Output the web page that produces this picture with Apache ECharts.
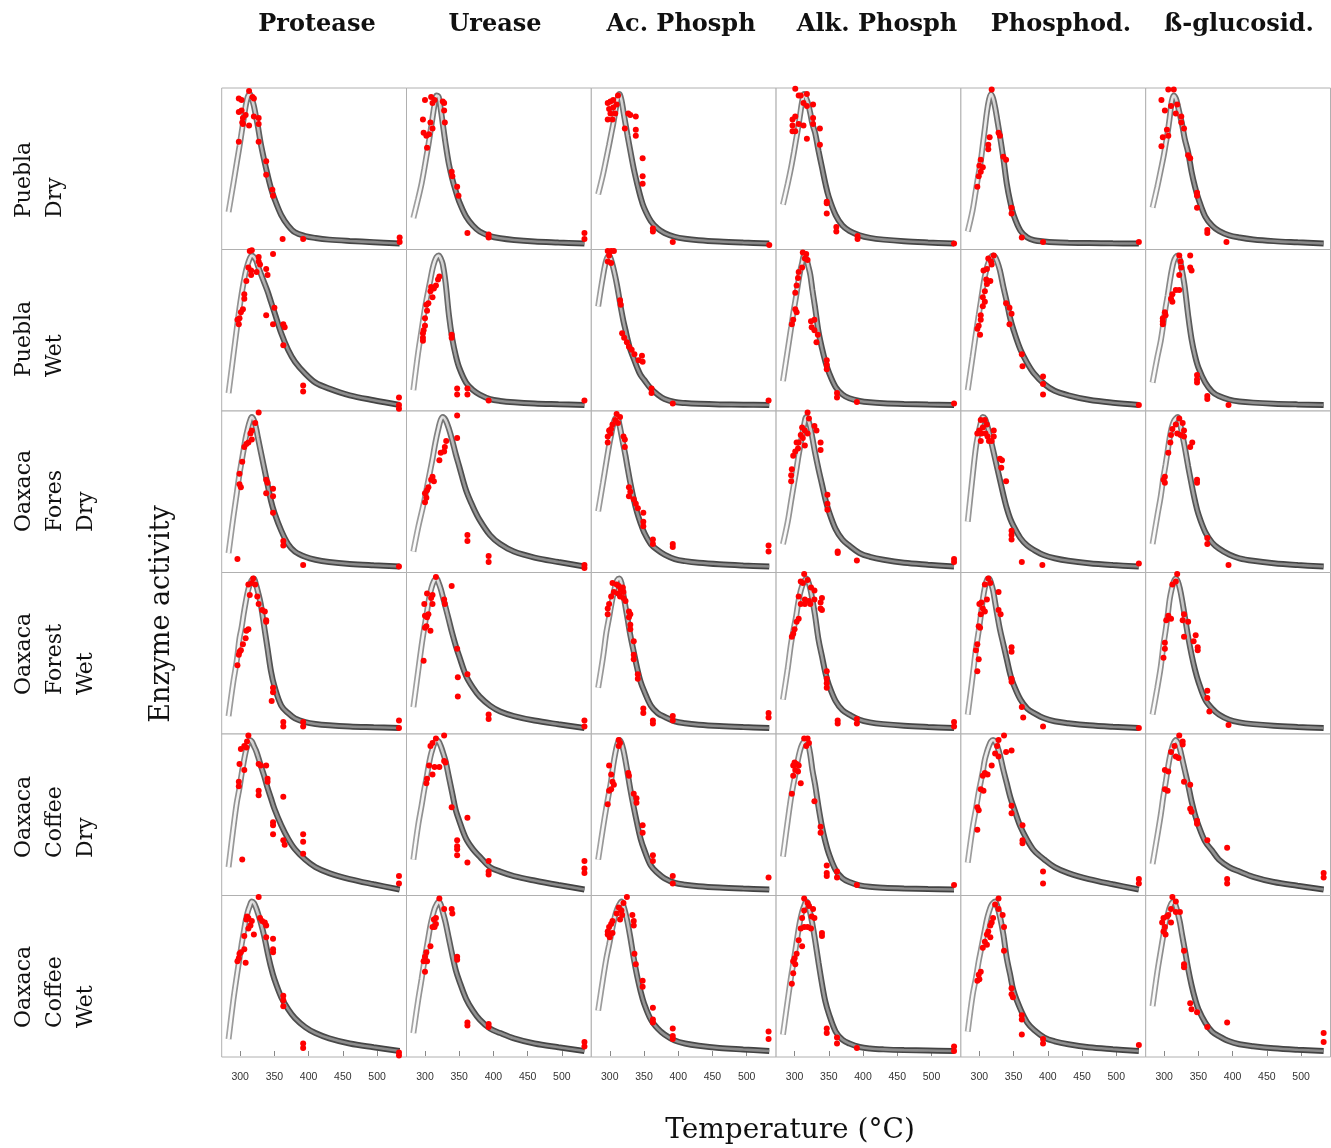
<!DOCTYPE html>
<html><head><meta charset="utf-8">
<script src="https://cdn.jsdelivr.net/npm/echarts@6/dist/echarts.min.js"></script>
<style>html,body{margin:0;padding:0;background:#fff}#chart{width:1331px;height:1148px}</style>
</head><body><div id="chart"></div>
<script>
// ---------- categories / ticks ----------
const ENZYMES = ['Protease', 'Urease', 'Ac. Phosph', 'Alk. Phosph', 'Phosphod.', 'ß-glucosid.'];
const SITES = ['Puebla\nDry', 'Puebla\nWet', 'Oaxaca\nFores\nDry', 'Oaxaca\nForest\nWet', 'Oaxaca\nCoffee\nDry', 'Oaxaca\nCoffee\nWet'];
const X_TICKS = [300, 350, 400, 450, 500];
const X_TITLE = 'Temperature (°C)';
const Y_TITLE = 'Enzyme activity';

// temperatures at which the fitted curves were read
const TEMP_GRID = [283,290,295,299,302,305,308,311,314,317,320,323,326,330,335,340,345,350,360,370,380,395,410,430,460,495,533];

// ---------- fitted curves (relative activity), one array per enzyme ----------
const fitPueblaDry = [
  [.21,.40,.54,.65,.74,.83,.92,.98,1.0,.97,.92,.85,.78,.67,.56,.46,.37,.30,.19,.12,.075,.05,.037,.026,.017,.009,0],
  [.17,.30,.40,.50,.58,.66,.75,.84,.93,.99,.98,.90,.80,.67,.53,.43,.35,.28,.18,.12,.08,.05,.035,.024,.014,.007,0],
  [.33,.46,.57,.66,.73,.80,.88,.96,1.0,.96,.88,.80,.72,.62,.50,.40,.31,.24,.15,.10,.07,.045,.032,.022,.013,.006,0],
  [.26,.40,.51,.61,.69,.77,.86,.95,1.0,.97,.93,.87,.80,.74,.62,.51,.40,.31,.19,.12,.085,.055,.038,.026,.015,.007,0],
  [.08,.22,.36,.47,.55,.66,.77,.88,.96,1.0,.97,.91,.83,.72,.57,.40,.28,.19,.085,.04,.022,.013,.008,.005,.003,.001,0],
  [.24,.38,.49,.58,.66,.74,.84,.95,.99,.97,.92,.86,.80,.70,.61,.48,.38,.30,.18,.12,.085,.055,.04,.027,.016,.008,0]
];
const fitPueblaWet = [
  [.08,.33,.51,.65,.74,.82,.89,.94,.98,1.0,.99,.97,.93,.88,.82,.76,.69,.62,.48,.37,.29,.21,.15,.11,.065,.032,0],
  [.10,.35,.50,.62,.70,.77,.84,.91,.96,.99,1.0,.98,.94,.82,.60,.44,.33,.25,.15,.10,.07,.04,.027,.018,.01,.005,0],
  [.66,.86,.97,1.0,.97,.92,.86,.79,.71,.63,.56,.50,.44,.37,.31,.25,.20,.17,.11,.07,.04,.02,.013,.008,.004,.002,0],
  [.16,.37,.52,.64,.72,.81,.89,.95,1.0,.98,.93,.87,.77,.65,.49,.38,.29,.22,.12,.07,.045,.027,.018,.012,.007,.003,0],
  [.10,.32,.48,.60,.69,.78,.86,.92,.96,.99,1.0,.99,.96,.90,.79,.69,.58,.50,.37,.28,.21,.14,.095,.065,.035,.015,0],
  [.15,.32,.43,.55,.65,.73,.82,.90,.96,.99,1.0,.97,.90,.79,.60,.44,.33,.25,.15,.09,.06,.036,.024,.016,.009,.004,0]
];
const fitForestDry = [
  [.09,.33,.49,.62,.70,.78,.86,.92,.97,1.0,.98,.93,.86,.77,.66,.55,.44,.36,.24,.15,.10,.065,.045,.03,.017,.008,0],
  [.10,.26,.36,.44,.51,.58,.65,.72,.80,.87,.93,.98,1.0,.98,.92,.84,.75,.67,.51,.40,.31,.21,.15,.10,.06,.03,0],
  [.37,.56,.70,.81,.88,.95,.99,1.0,.95,.88,.81,.74,.66,.56,.45,.36,.29,.23,.15,.11,.08,.05,.036,.025,.015,.007,0],
  [.15,.30,.44,.55,.63,.72,.80,.88,.95,1.0,.98,.93,.86,.76,.65,.55,.45,.37,.25,.18,.14,.09,.065,.045,.025,.012,0],
  [.30,.60,.80,.90,.96,1.0,.99,.95,.90,.84,.78,.72,.66,.58,.48,.39,.32,.27,.19,.14,.11,.075,.055,.038,.022,.01,0],
  [.15,.34,.47,.60,.68,.77,.86,.93,.97,.99,1.0,.96,.89,.80,.67,.55,.44,.35,.23,.16,.12,.08,.055,.038,.022,.01,0]
];
const fitForestWet = [
  [.08,.31,.45,.60,.67,.76,.84,.91,.96,.99,1.0,.96,.91,.83,.68,.53,.38,.28,.15,.10,.065,.04,.027,.018,.01,.005,0],
  [.14,.38,.55,.67,.75,.84,.91,.96,.99,1.0,.97,.93,.88,.81,.72,.63,.55,.48,.35,.27,.21,.15,.11,.08,.05,.025,0],
  [.27,.47,.64,.74,.82,.89,.95,.99,1.0,.97,.89,.81,.73,.62,.51,.40,.31,.25,.15,.10,.075,.045,.032,.022,.013,.006,0],
  [.19,.40,.57,.67,.74,.83,.90,.95,.98,1.0,.98,.93,.86,.75,.59,.48,.37,.29,.18,.12,.09,.055,.038,.026,.015,.007,0],
  [.09,.34,.53,.65,.75,.86,.94,.99,1.0,.97,.92,.84,.76,.66,.56,.46,.36,.29,.19,.13,.10,.065,.045,.032,.018,.008,0],
  [.09,.27,.41,.56,.65,.75,.86,.93,.98,1.0,.98,.93,.86,.75,.61,.49,.39,.31,.19,.13,.09,.055,.038,.026,.015,.007,0]
];
const fitCoffeeDry = [
  [.15,.41,.58,.68,.77,.85,.92,.97,1.0,.99,.96,.93,.89,.83,.76,.68,.61,.54,.43,.34,.27,.20,.15,.11,.07,.035,0],
  [.20,.43,.56,.67,.74,.82,.89,.94,.98,1.0,.99,.96,.92,.86,.75,.64,.53,.46,.34,.27,.22,.15,.12,.09,.06,.03,0],
  [.20,.41,.55,.65,.73,.83,.91,.97,1.0,.98,.93,.86,.78,.67,.55,.44,.34,.27,.16,.11,.075,.045,.032,.022,.013,.006,0],
  [.22,.46,.62,.72,.79,.87,.93,.97,.99,1.0,.97,.90,.80,.70,.55,.42,.32,.24,.13,.075,.05,.028,.018,.012,.007,.003,0],
  [.18,.41,.54,.65,.72,.79,.87,.92,.96,.99,1.0,.99,.96,.90,.80,.71,.62,.55,.42,.33,.26,.20,.15,.11,.07,.035,0],
  [.17,.36,.50,.63,.71,.80,.88,.94,.98,1.0,.98,.94,.88,.80,.70,.59,.50,.43,.32,.26,.20,.15,.12,.085,.05,.025,0]
];
const fitCoffeeWet = [
  [.08,.34,.50,.62,.71,.79,.87,.93,.97,1.0,.99,.96,.92,.86,.77,.66,.56,.48,.36,.28,.22,.16,.12,.085,.05,.025,0],
  [.12,.34,.48,.60,.68,.76,.84,.90,.95,.98,1.0,.98,.93,.86,.75,.64,.54,.47,.35,.27,.21,.15,.12,.085,.05,.025,0],
  [.27,.48,.62,.71,.78,.85,.91,.95,.98,1.0,.97,.92,.86,.76,.62,.50,.40,.32,.21,.15,.11,.07,.05,.035,.02,.01,0],
  [.11,.34,.50,.61,.70,.79,.87,.93,.97,1.0,.98,.92,.85,.74,.59,.45,.33,.25,.13,.075,.05,.027,.017,.011,.006,.003,0],
  [.13,.37,.49,.60,.67,.74,.81,.88,.93,.97,.99,1.0,.97,.90,.78,.62,.51,.40,.28,.19,.14,.09,.065,.045,.025,.012,0],
  [.30,.53,.67,.78,.86,.91,.96,.99,1.0,.97,.92,.86,.78,.68,.55,.44,.35,.28,.19,.13,.10,.065,.045,.032,.018,.008,0]
];

// ---------- observations [temperature, relative activity], one array per enzyme ----------
const obsPueblaDry = [
  [[298,.97],[302,.96],[313,1.02],[318,.98],[320,.97],[298,.88],[302,.89],[304,.84],[308,.86],[303,.81],[304,.80],[313,.79],[298,.68],[320,.85],[327,.84],[327,.80],[327,.68],[338,.55],[338,.46],[347,.36],[348,.32],[362,.03],[392,.03],[533,.04],[533,.01]],
  [[300,.96],[309,.98],[314,.96],[311,.94],[326,.95],[328,.94],[297,.83],[308,.81],[311,.77],[298,.74],[306,.73],[302,.72],[303,.64],[328,.89],[329,.81],[339,.48],[340,.45],[347,.38],[349,.32],[362,.07],[393,.06],[393,.04],[533,.07],[533,.03]],
  [[297,.94],[301,.95],[305,.96],[299,.90],[305,.91],[310,.93],[301,.87],[308,.87],[297,.83],[304,.83],[312,.99],[327,.87],[330,.86],[338,.85],[322,.77],[338,.76],[338,.72],[348,.57],[348,.45],[348,.40],[363,.10],[363,.08],[392,.01],[533,-.01]],
  [[301,1.035],[306,.99],[309,.99],[318,1.0],[313,.94],[318,.92],[297,.83],[297,.79],[297,.75],[301,.75],[301,.85],[306,.80],[313,.79],[318,.70],[327,.93],[327,.84],[327,.80],[337,.77],[337,.66],[347,.28],[347,.27],[347,.20],[361,.11],[361,.08],[392,.05],[392,.03],[533,0]],
  [[315,.71],[313,.66],[313,.63],[302,.56],[300,.52],[305,.51],[302,.48],[299,.45],[297,.38],[318,1.03],[328,.74],[330,.72],[335,.58],[339,.56],[347,.24],[347,.20],[362,.04],[393,.01],[533,.01]],
  [[306,1.03],[314,1.03],[296,.96],[301,.89],[310,.92],[319,.93],[304,.76],[306,.72],[298,.71],[296,.65],[317,.87],[325,.85],[325,.81],[329,.77],[335,.59],[338,.57],[348,.34],[348,.32],[348,.24],[363,.09],[363,.07],[391,.01]]
];
const obsPueblaWet = [
  [[314,1.03],[317,1.035],[348,1.01],[312,.92],[316,.90],[327,.99],[327,.96],[329,.94],[324,.89],[316,.87],[338,.91],[340,.87],[309,.83],[306,.74],[306,.71],[304,.64],[301,.62],[299,.58],[296,.57],[298,.54],[338,.60],[350,.65],[348,.54],[363,.54],[365,.52],[363,.40],[392,.13],[392,.09],[532,.05],[532,0],[532,-.025]],
  [[321,.86],[319,.84],[316,.80],[313,.78],[309,.79],[308,.76],[311,.72],[305,.68],[302,.67],[303,.63],[300,.58],[300,.53],[298,.50],[297,.48],[297,.45],[297,.43],[339,.47],[339,.45],[347,.11],[347,.07],[362,.11],[362,.07],[393,.03],[533,.03]],
  [[297,1.03],[302,1.03],[306,1.03],[299,1.0],[297,.96],[302,.95],[315,.70],[316,.67],[318,.48],[321,.45],[325,.42],[328,.39],[332,.37],[336,.34],[342,.30],[347,.33],[348,.29],[361,.11],[361,.08],[392,.01],[532,.03]],
  [[312,1.02],[317,1.01],[315,.98],[319,.97],[311,.92],[306,.89],[305,.85],[303,.80],[301,.75],[301,.64],[303,.62],[298,.57],[296,.54],[324,.56],[329,.57],[325,.52],[329,.50],[334,.47],[332,.42],[347,.30],[347,.27],[347,.24],[362,.08],[362,.05],[391,.02],[533,.01]],
  [[313,.98],[317,.96],[321,1.0],[318,.94],[311,.91],[306,.90],[310,.84],[311,.81],[316,.83],[308,.76],[305,.72],[308,.69],[305,.66],[302,.60],[302,.57],[299,.53],[297,.51],[301,.47],[339,.68],[344,.65],[347,.61],[344,.54],[362,.34],[363,.26],[393,.19],[393,.14],[393,.07],[533,0]],
  [[322,1.0],[338,1.0],[324,.96],[325,.92],[338,.92],[340,.90],[322,.87],[317,.77],[322,.77],[312,.74],[310,.71],[312,.69],[301,.62],[302,.60],[298,.58],[298,.56],[298,.54],[348,.20],[348,.17],[348,.15],[363,.06],[363,.04],[394,0]]
];
const obsForestDry = [
  [[327,1.03],[322,.96],[317,.91],[315,.89],[317,.85],[312,.83],[309,.82],[306,.80],[303,.70],[299,.62],[299,.55],[301,.53],[296,.05],[338,.58],[340,.56],[338,.49],[348,.52],[348,.47],[348,.36],[363,.17],[363,.14],[392,.01],[532,0]],
  [[347,1.01],[347,.86],[331,.84],[329,.80],[328,.77],[323,.76],[321,.71],[311,.60],[309,.58],[313,.57],[305,.53],[303,.51],[300,.49],[302,.46],[300,.43],[362,.21],[362,.17],[393,.07],[393,.03],[533,.01],[533,-.01]],
  [[310,1.02],[315,1.0],[308,.98],[312,.96],[304,.95],[302,.92],[299,.91],[301,.89],[297,.87],[297,.83],[320,.87],[322,.85],[322,.80],[328,.53],[330,.50],[328,.47],[335,.45],[338,.42],[341,.39],[349,.36],[349,.30],[349,.27],[363,.18],[363,.15],[392,.15],[392,.13],[532,.14],[532,.10]],
  [[319,1.03],[321,.99],[311,.93],[315,.91],[329,.94],[332,.91],[319,.89],[309,.88],[312,.86],[306,.83],[315,.81],[303,.83],[305,.79],[301,.77],[298,.74],[338,.83],[338,.78],[296,.65],[295,.61],[295,.57],[348,.48],[348,.42],[348,.38],[363,.10],[363,.09],[391,.04],[533,.05],[533,.03]],
  [[302,.98],[308,.98],[311,.95],[305,.93],[300,.91],[297,.89],[303,.89],[309,.89],[312,.87],[321,.91],[321,.87],[318,.84],[302,.84],[314,.84],[330,.72],[333,.71],[332,.66],[339,.57],[347,.24],[347,.21],[347,.18],[362,.03],[392,.01],[533,.02]],
  [[322,.99],[327,.96],[317,.95],[312,.92],[310,.88],[319,.89],[324,.88],[329,.91],[329,.87],[309,.83],[306,.76],[341,.83],[338,.80],[301,.60],[299,.58],[301,.56],[348,.58],[348,.56],[363,.19],[363,.15],[394,.01]]
];
const obsForestWet = [
  [[319,1.0],[317,.97],[322,.96],[312,.96],[314,.89],[325,.88],[327,.83],[332,.79],[336,.78],[338,.72],[338,.71],[312,.66],[309,.65],[308,.60],[304,.56],[301,.52],[299,.51],[298,.49],[296,.42],[348,.27],[348,.24],[346,.18],[363,.04],[363,.01],[392,.04],[392,.01],[532,.05],[532,0]],
  [[316,1.01],[339,.95],[303,.90],[309,.87],[311,.89],[299,.83],[311,.83],[328,.86],[329,.83],[300,.75],[305,.76],[303,.74],[302,.68],[300,.67],[308,.65],[298,.45],[347,.53],[348,.34],[362,.36],[348,.21],[393,.09],[393,.06],[533,.05],[533,.01]],
  [[304,.97],[310,.96],[313,.95],[316,.93],[319,.94],[320,.91],[306,.91],[312,.90],[302,.88],[315,.88],[320,.87],[323,.85],[299,.83],[297,.80],[297,.76],[328,.78],[330,.76],[328,.74],[330,.69],[330,.66],[335,.58],[335,.49],[335,.46],[341,.36],[341,.33],[349,.13],[349,.10],[363,.05],[363,.03],[392,.08],[392,.05],[532,.10],[532,.07]],
  [[314,1.03],[309,.98],[312,.97],[319,.99],[324,.94],[329,.92],[306,.88],[315,.86],[321,.85],[329,.86],[338,.84],[340,.87],[309,.83],[315,.83],[323,.83],[338,.80],[340,.79],[303,.71],[306,.73],[300,.66],[298,.63],[296,.61],[347,.38],[347,.33],[347,.30],[347,.27],[363,.05],[363,.03],[391,.06],[391,.03],[533,.04],[533,.01]],
  [[313,1.0],[316,.97],[308,.96],[328,.91],[311,.86],[303,.84],[300,.83],[305,.80],[308,.78],[302,.76],[299,.68],[301,.67],[297,.56],[295,.52],[299,.46],[297,.38],[328,.79],[331,.76],[347,.54],[347,.51],[347,.33],[347,.31],[362,.14],[364,.07],[393,.01],[533,0]],
  [[319,1.03],[317,.98],[312,.96],[310,.73],[303,.72],[306,.75],[329,.76],[327,.72],[335,.71],[329,.61],[346,.62],[343,.58],[349,.54],[349,.52],[301,.57],[301,.53],[299,.47],[363,.25],[363,.20],[366,.11],[394,.02]]
];
const obsCoffeeDry = [
  [[312,1.03],[310,.99],[306,.96],[301,.94],[309,.95],[299,.84],[298,.72],[298,.69],[306,.80],[327,.84],[330,.83],[338,.83],[340,.74],[340,.72],[327,.66],[327,.63],[363,.62],[348,.45],[348,.43],[348,.37],[363,.33],[365,.30],[392,.37],[392,.32],[392,.24],[303,.20],[532,.09],[532,.04]],
  [[328,1.03],[316,1.01],[311,.98],[308,.96],[306,.83],[314,.82],[321,.82],[328,.86],[330,.85],[303,.74],[302,.71],[311,.77],[339,.55],[347,.33],[347,.29],[347,.27],[347,.23],[362,.48],[362,.18],[393,.19],[393,.12],[393,.10],[533,.19],[533,.14],[533,.11]],
  [[313,1.0],[315,.98],[313,.96],[299,.83],[302,.77],[304,.72],[306,.70],[302,.67],[299,.66],[297,.57],[327,.78],[328,.76],[335,.64],[339,.61],[339,.58],[348,.43],[348,.38],[363,.23],[363,.19],[392,.09],[392,.04],[532,.08]],
  [[314,1.01],[319,1.01],[321,.98],[317,.96],[300,.85],[303,.84],[298,.83],[306,.83],[301,.80],[305,.79],[298,.76],[296,.64],[309,.71],[329,.59],[338,.42],[338,.38],[347,.16],[347,.11],[347,.09],[362,.12],[362,.08],[391,.03],[533,.03]],
  [[336,1.03],[328,1.0],[326,.96],[323,.91],[339,.92],[347,.93],[328,.89],[318,.83],[308,.78],[312,.77],[305,.76],[302,.67],[306,.66],[297,.55],[299,.53],[297,.40],[347,.56],[347,.51],[363,.43],[363,.33],[363,.31],[393,.12],[393,.04],[533,.07],[533,.04]],
  [[322,1.03],[327,.99],[327,.97],[315,.96],[310,.92],[301,.80],[306,.79],[317,.89],[321,.88],[301,.67],[305,.66],[329,.72],[338,.70],[338,.54],[340,.52],[348,.46],[348,.44],[363,.33],[392,.28],[392,.07],[392,.04],[533,.11],[533,.08]]
];
const obsCoffeeWet = [
  [[327,1.03],[310,.90],[312,.89],[309,.88],[317,.87],[315,.84],[312,.82],[306,.77],[320,.78],[329,.89],[332,.87],[336,.86],[338,.84],[338,.76],[348,.75],[348,.68],[348,.66],[306,.68],[301,.66],[299,.65],[298,.62],[296,.60],[308,.59],[363,.37],[363,.34],[363,.30],[392,.05],[392,.02],[532,-.01],[532,-.03]],
  [[321,1.02],[328,.95],[339,.95],[340,.92],[316,.89],[313,.88],[316,.85],[311,.83],[314,.83],[308,.70],[302,.66],[300,.63],[303,.60],[298,.60],[300,.53],[347,.63],[347,.61],[362,.19],[362,.17],[393,.18],[393,.16],[533,.06],[533,.03]],
  [[325,1.03],[320,.99],[313,.96],[317,.94],[318,.91],[310,.92],[315,.88],[304,.87],[302,.85],[299,.83],[297,.80],[297,.78],[304,.79],[300,.76],[333,.91],[335,.87],[335,.84],[336,.65],[338,.58],[348,.47],[348,.43],[363,.29],[363,.21],[363,.19],[392,.15],[392,.10],[392,.08],[532,.13],[532,.08]],
  [[314,1.02],[319,.99],[321,.97],[327,.95],[314,.94],[311,.89],[325,.90],[329,.89],[319,.83],[314,.83],[324,.82],[309,.82],[340,.79],[340,.77],[306,.74],[311,.70],[303,.65],[300,.62],[298,.60],[301,.58],[298,.52],[296,.45],[347,.15],[347,.12],[362,.09],[362,.05],[391,.02],[533,.03],[533,0]],
  [[328,1.02],[323,.98],[328,.95],[334,.91],[336,.83],[320,.89],[318,.86],[316,.84],[313,.80],[311,.78],[316,.76],[308,.73],[311,.71],[305,.69],[302,.53],[299,.51],[300,.48],[297,.47],[336,.67],[347,.42],[347,.38],[349,.36],[362,.24],[362,.21],[362,.11],[393,.08],[393,.05],[533,.04]],
  [[312,1.03],[317,1.0],[310,.95],[306,.91],[317,.93],[323,.93],[304,.90],[299,.89],[297,.86],[301,.83],[299,.80],[302,.78],[310,.86],[329,.67],[329,.58],[329,.56],[338,.32],[340,.28],[348,.26],[363,.16],[392,.19],[533,.12],[533,.06]]
];

const FITS = [fitPueblaDry, fitPueblaWet, fitForestDry, fitForestWet, fitCoffeeDry, fitCoffeeWet];
const OBS = [obsPueblaDry, obsPueblaWet, obsForestDry, obsForestWet, obsCoffeeDry, obsCoffeeWet];

// ---------- layout ----------
const L0 = 221.7, CW = 184.8, T0 = 88, CH = 161.5;
const SERIF = '"DejaVu Serif", "Liberation Serif", serif';

const grid = [], xAxis = [], yAxis = [], series = [];
for (let r = 0; r < 6; r++) {
  for (let c = 0; c < 6; c++) {
    const i = r * 6 + c;
    const bottom = r === 5;
    grid.push({ left: L0 + c * CW, top: T0 + r * CH, width: CW, height: CH,
      show: true, borderColor: '#b0b0b0', borderWidth: 1, backgroundColor: '#fff' });
    xAxis.push({ type: 'value', gridIndex: i, min: 273, max: 543,
      axisLine: { show: false }, splitLine: { show: false },
      axisTick: { show: bottom, customValues: X_TICKS, length: 5, lineStyle: { color: '#888' } },
      axisLabel: { show: bottom, customValues: X_TICKS, fontSize: 10.5, color: '#333', margin: 15,
        fontFamily: '"Liberation Sans", Arial, sans-serif' } });
    yAxis.push({ type: 'value', gridIndex: i, min: -0.04, max: 1.04, show: false });

    const fit = FITS[r][c];
    const line = TEMP_GRID.map((t, k) => [t, fit[k]]);
    let pk = 0;
    fit.forEach((v, k) => { if (v > fit[pk]) pk = k; });
    const span = TEMP_GRID[TEMP_GRID.length - 1] - TEMP_GRID[0];
    const p = (TEMP_GRID[pk] - TEMP_GRID[0]) / span;
    const p2 = Math.min(0.9, p + 0.12);
    const outer = { type: 'linear', x: 0, y: 0, x2: 1, y2: 0, colorStops: [
      { offset: 0, color: '#a8a8a8' }, { offset: p, color: '#7a7a7a' },
      { offset: p2, color: '#4f4f4f' }, { offset: 1, color: '#404040' }] };
    const inner = { type: 'linear', x: 0, y: 0, x2: 1, y2: 0, colorStops: [
      { offset: 0, color: '#ffffff' }, { offset: p, color: '#e6e6e6' },
      { offset: p2, color: '#959595' }, { offset: 1, color: '#888888' }] };
    series.push({ type: 'line', xAxisIndex: i, yAxisIndex: i, data: line, smooth: 0.35,
      showSymbol: false, silent: true, z: 2,
      lineStyle: { width: 6, color: outer } });
    series.push({ type: 'line', xAxisIndex: i, yAxisIndex: i, data: line, smooth: 0.35,
      showSymbol: false, silent: true, z: 3,
      lineStyle: { width: 2.6, color: inner } });
    series.push({ type: 'scatter', xAxisIndex: i, yAxisIndex: i, data: OBS[r][c],
      symbol: 'circle', symbolSize: 6, clip: true, silent: true, z: 4,
      itemStyle: { color: '#ff0000', opacity: 1 } });
  }
}

// ---------- texts ----------
const HEADER_X = [317, 495, 681, 877, 1061, 1239];
const ROW_BOTTOM = [218, 377, 532, 695, 858, 1028];
const graphic = [];
ENZYMES.forEach((name, c) => {
  graphic.push({ type: 'text', x: HEADER_X[c], y: 25, silent: true,
    style: { text: name, font: 'bold 24px ' + SERIF, fill: '#111',
      align: 'center', verticalAlign: 'middle', textAlign: 'center', textVerticalAlign: 'middle' } });
});
SITES.forEach((name, r) => {
  graphic.push({ type: 'text', x: 9, y: ROW_BOTTOM[r], rotation: Math.PI / 2, silent: true,
    style: { text: name, font: '22px ' + SERIF, fill: '#111', lineHeight: 31,
      align: 'left', verticalAlign: 'top', textAlign: 'left', textVerticalAlign: 'top' } });
});
graphic.push({ type: 'text', x: 162, y: 614, rotation: Math.PI / 2, silent: true,
  style: { text: Y_TITLE, font: '27px ' + SERIF, fill: '#111',
    align: 'center', verticalAlign: 'middle', textAlign: 'center', textVerticalAlign: 'middle' } });
graphic.push({ type: 'text', x: 790, y: 1131, silent: true,
  style: { text: X_TITLE, font: '28px ' + SERIF, fill: '#111',
    align: 'center', verticalAlign: 'middle', textAlign: 'center', textVerticalAlign: 'middle' } });

const chart = echarts.init(document.getElementById('chart'), null, { renderer: 'canvas' });
chart.setOption({ backgroundColor: '#fff', animation: false, grid, xAxis, yAxis, series, graphic });
</script></body></html>
